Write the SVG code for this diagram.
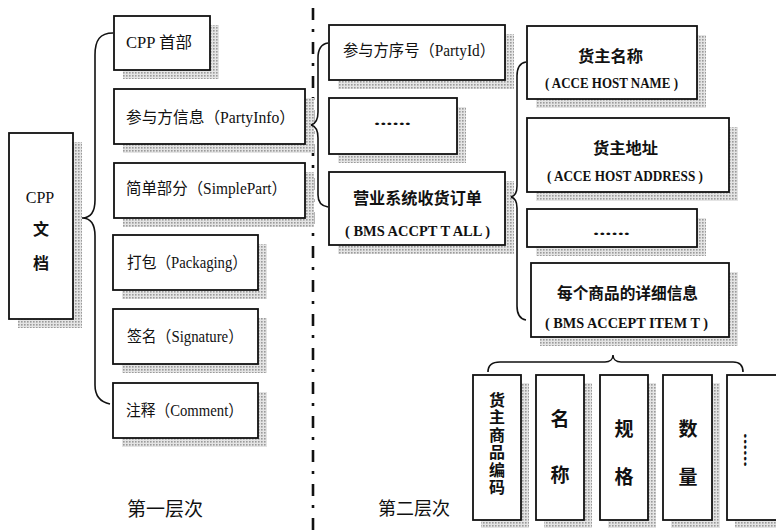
<svg xmlns="http://www.w3.org/2000/svg" width="776" height="532" viewBox="0 0 776 532">
<defs>
<pattern id="stip" width="3" height="3" patternUnits="userSpaceOnUse">
<rect width="3" height="3" fill="#e4e4e4"/>
<rect x="0" y="0" width="1.6" height="1.6" fill="#9a9a9a"/>
</pattern>
</defs>
<style>
.box{fill:#fff;stroke:#111;stroke-width:1.8}
.sh{fill:url(#stip)}
.t{font-family:"Liberation Serif","Noto Sans CJK SC",serif;font-size:16px;fill:#111;dominant-baseline:central}
.cn{font-family:"Noto Sans CJK SC","Liberation Sans",sans-serif;font-size:16px;fill:#111;dominant-baseline:central;font-weight:bold}
.m{font-family:"Liberation Serif","Noto Sans CJK SC",serif;font-size:15.5px;font-weight:bold;fill:#111;dominant-baseline:central}
.mid{text-anchor:middle}
.br{fill:none;stroke:#111;stroke-width:1.6}
.div{fill:none;stroke:#111;stroke-width:2.6;stroke-dasharray:12 9 3 10}
</style>
<rect width="776" height="532" fill="#fff"/>

<g id="divider">
<path class="div" d="M313,8 L313,532"/>
</g>

<g id="doc">
<rect class="sh" x="18" y="142" width="64" height="186"/>
<rect class="box" x="9" y="133" width="64" height="186"/>
<text class="t mid" x="40" y="197">CPP</text>
<text class="cn mid" x="41" y="228">文</text>
<text class="cn mid" x="41" y="262">档</text>
</g>

<g id="l1-header">
<rect class="sh" x="123" y="25" width="96" height="54"/>
<rect class="box" x="114" y="16" width="96" height="54"/>
<text class="t" x="126" y="42" textLength="66" lengthAdjust="spacingAndGlyphs">CPP 首部</text>
</g>
<g id="l1-partyinfo">
<rect class="sh" x="123" y="98" width="191" height="55"/>
<rect class="box" x="114" y="89" width="191" height="55"/>
<text class="t" x="126" y="117" textLength="169" lengthAdjust="spacingAndGlyphs">参与方信息（PartyInfo）</text>
</g>
<g id="l1-simplepart">
<rect class="sh" x="123" y="172" width="191" height="55"/>
<rect class="box" x="114" y="163" width="191" height="55"/>
<text class="t" x="126" y="188" textLength="161" lengthAdjust="spacingAndGlyphs">简单部分（SimplePart）</text>
</g>
<g id="l1-packaging">
<rect class="sh" x="122" y="244" width="145" height="55"/>
<rect class="box" x="113" y="235" width="145" height="55"/>
<text class="t" x="127" y="262" textLength="120" lengthAdjust="spacingAndGlyphs">打包（Packaging）</text>
</g>
<g id="l1-signature">
<rect class="sh" x="122" y="318" width="145" height="55"/>
<rect class="box" x="113" y="309" width="145" height="55"/>
<text class="t" x="127" y="336" textLength="116" lengthAdjust="spacingAndGlyphs">签名（Signature）</text>
</g>
<g id="l1-comment">
<rect class="sh" x="122" y="392" width="145" height="55"/>
<rect class="box" x="113" y="383" width="145" height="55"/>
<text class="t" x="126" y="410" textLength="117" lengthAdjust="spacingAndGlyphs">注释（Comment）</text>
</g>

<g id="l2-partyid">
<rect class="sh" x="338" y="34" width="176" height="55"/>
<rect class="box" x="329" y="25" width="176" height="55"/>
<text class="t" x="343" y="50" textLength="152" lengthAdjust="spacingAndGlyphs">参与方序号（PartyId）</text>
</g>
<g id="l2-more">
<rect class="sh" x="338" y="107" width="128" height="56"/>
<rect class="box" x="329" y="98" width="128" height="56"/>
<text class="m" x="374" y="119" textLength="37" lengthAdjust="spacingAndGlyphs">......</text>
</g>
<g id="l2-order">
<rect class="sh" x="338" y="181" width="176" height="73"/>
<rect class="box" x="329" y="172" width="176" height="73"/>
<text class="cn" x="353" y="197" textLength="129" lengthAdjust="spacingAndGlyphs">营业系统收货订单</text>
<text class="m" x="345" y="230" textLength="145" lengthAdjust="spacingAndGlyphs">( BMS ACCPT T ALL )</text>
</g>

<g id="l3-name">
<rect class="sh" x="536" y="35" width="170" height="73"/>
<rect class="box" x="527" y="26" width="170" height="73"/>
<text class="cn" x="578" y="55" textLength="65" lengthAdjust="spacingAndGlyphs">货主名称</text>
<text class="m" x="545" y="82" textLength="133" lengthAdjust="spacingAndGlyphs">( ACCE HOST NAME )</text>
</g>
<g id="l3-address">
<rect class="sh" x="536" y="127" width="202" height="74"/>
<rect class="box" x="527" y="118" width="202" height="74"/>
<text class="cn" x="593" y="147" textLength="65" lengthAdjust="spacingAndGlyphs">货主地址</text>
<text class="m" x="547" y="175" textLength="156" lengthAdjust="spacingAndGlyphs">( ACCE HOST ADDRESS )</text>
</g>
<g id="l3-more">
<rect class="sh" x="536" y="218" width="170" height="38"/>
<rect class="box" x="527" y="209" width="170" height="38"/>
<text class="m" x="593" y="229" textLength="37" lengthAdjust="spacingAndGlyphs">......</text>
</g>
<g id="l3-item">
<rect class="sh" x="540" y="272" width="198" height="74"/>
<rect class="box" x="531" y="263" width="198" height="74"/>
<text class="cn" x="557" y="292" textLength="141" lengthAdjust="spacingAndGlyphs">每个商品的详细信息</text>
<text class="m" x="545" y="322" textLength="163" lengthAdjust="spacingAndGlyphs">( BMS ACCEPT ITEM T )</text>
</g>

<g id="f-code">
<rect class="sh" x="481" y="383" width="48" height="145"/>
<rect class="box" x="473" y="375" width="48" height="145"/>
<text class="cn" style="font-size:16px;writing-mode:vertical-rl;dominant-baseline:auto" x="497" y="392" textLength="103" lengthAdjust="spacing">货主商品编码</text>
</g>
<g id="f-name">
<rect class="sh" x="544" y="383" width="48" height="145"/>
<rect class="box" x="536" y="375" width="48" height="145"/>
<text class="cn mid" style="font-size:19px" x="560" y="417">名</text>
<text class="cn mid" style="font-size:19px" x="560" y="473">称</text>
</g>
<g id="f-spec">
<rect class="sh" x="608" y="383" width="48" height="145"/>
<rect class="box" x="600" y="375" width="48" height="145"/>
<text class="cn mid" style="font-size:19px" x="624" y="427">规</text>
<text class="cn mid" style="font-size:19px" x="624" y="475">格</text>
</g>
<g id="f-qty">
<rect class="sh" x="671" y="383" width="49" height="145"/>
<rect class="box" x="663" y="375" width="49" height="145"/>
<text class="cn mid" style="font-size:19px" x="688" y="427">数</text>
<text class="cn mid" style="font-size:19px" x="688" y="475">量</text>
</g>
<g id="f-more">
<rect class="sh" x="735" y="383" width="60" height="145"/>
<rect class="box" x="727" y="375" width="60" height="145"/>
<text class="m mid" style="font-size:14px" transform="translate(748,450) rotate(90)" x="0" y="0" textLength="34" lengthAdjust="spacingAndGlyphs">......</text>
</g>

<g id="connectors">
<path class="br" d="M113,33 C100,33 95,40 95,55 L95,200 C95,212 90,218 82,218 C90,218 95,224 95,236 L95,385 C95,396 100,402 110,404"/>
<path class="br" d="M328,43 C321,44 318,50 318,58 L318,112 C318,120 315,124 311,125 C315,126 318,130 318,138 L318,195 C318,202 321,206 328,207"/>
<path class="br" d="M526,62 C520,63 517,68 517,76 L517,186 C517,193 515,196 511,197 C515,198 517,201 517,208 L517,306 C517,314 520,319 526,320"/>
<path class="br" d="M488,372 C488,365 492,362 500,362 L605,362 C610,362 613,359 613,355 C613,359 616,362 621,362 L733,362 C740,362 743,366 743,372"/>
</g>

<g id="labels">
<text class="cn mid" style="font-size:19px;font-weight:normal" x="165" y="507">第一层次</text>
<text class="cn mid" style="font-size:18px;font-weight:normal" x="414" y="507">第二层次</text>
</g>
</svg>
